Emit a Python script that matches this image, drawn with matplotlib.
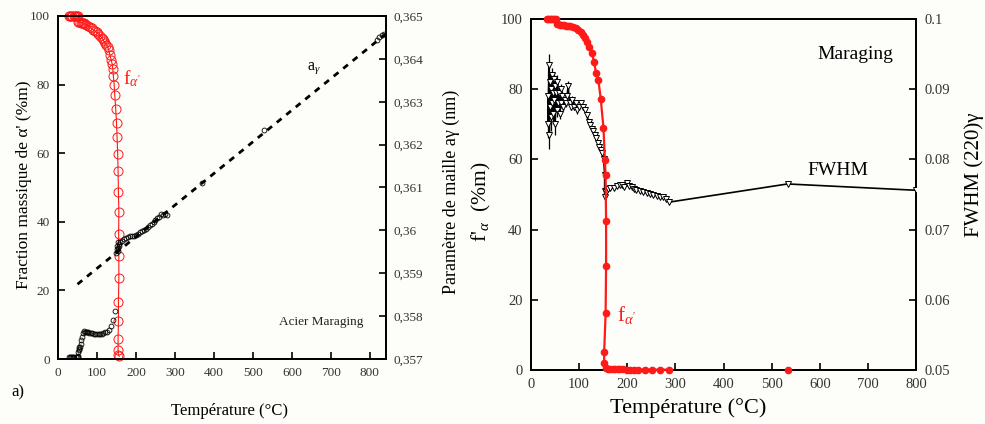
import matplotlib
matplotlib.use("Agg")
import matplotlib.pyplot as plt
import matplotlib.ticker as mticker

plt.rcParams['font.family'] = ['Liberation Serif', 'DejaVu Serif']
plt.rcParams['mathtext.fontset'] = 'custom'
plt.rcParams['mathtext.rm'] = 'Liberation Serif'
plt.rcParams['mathtext.it'] = 'Liberation Serif:italic'

# --- panel a) : fraction alpha' (left axis, %m) ---
fa_T = [28, 31, 34, 37, 40, 43, 46, 49, 51,
        52, 55, 58, 61, 64, 67, 70,
        73, 77, 81, 86, 90, 95, 99, 103, 107, 112, 115, 118, 121, 124, 127,
        130, 133, 136, 139, 140.5, 142, 144, 145.5, 148, 150, 151.5, 153,
        154, 155, 156, 155.5, 156, 156, 155, 155, 154, 154, 155, 157]
fa_val = [100, 100, 100, 100, 100, 100, 100, 100, 100,
          98.2, 98.2, 98.1, 98, 98, 97.9, 97.7,
          97.4, 97.2, 96.9, 96.4, 96.0, 95.6, 95.2, 94.8, 94.3, 93.7, 93.2, 92.6, 92.1, 91.6, 91.1,
          90.1, 88.7, 87.2, 86.0, 84.5, 82.4, 80, 77.1, 72.8, 68.9, 64.7, 59.7,
          54.9, 48.6, 43, 36.3, 30, 23.7, 16.7, 11.2, 5.9, 2.7, 1.2, 0.8]

# lattice parameter a_gamma (right axis, nm)
ag_T = [27, 30, 33, 36, 39, 42, 45, 48, 50,
        51, 52, 53, 54, 55, 56, 58, 60, 62, 64, 66,
        68, 71, 74, 77, 80, 84, 88, 92, 96, 100, 104, 108, 112, 116, 120,
        125, 131, 136, 142, 146,
        148, 150, 152, 153, 154, 155, 156, 157,
        160, 165, 170, 175, 180, 185, 190, 195, 200,
        205, 210, 215, 220, 225, 230, 235, 240, 245, 250, 255, 260, 265, 270, 275, 280,
        370, 528, 818, 824, 830, 835]
ag_val = [0.35704, 0.35704, 0.35704, 0.35704, 0.35704, 0.35704, 0.35704, 0.35704, 0.35704,
          0.35708, 0.35716, 0.35720, 0.35724, 0.35728, 0.35729, 0.35736, 0.35744, 0.35752, 0.35760, 0.35766,
          0.35764, 0.35762, 0.35762, 0.35762, 0.35761, 0.35760, 0.35760, 0.35759, 0.35758, 0.35758,
          0.35758, 0.35758, 0.35759, 0.35760, 0.35762,
          0.35764, 0.35768, 0.35777, 0.35790, 0.35812,
          0.35948, 0.35956, 0.35964, 0.35952, 0.35960, 0.35972, 0.35964, 0.35968,
          0.35972, 0.35976, 0.35980, 0.35982, 0.35984, 0.35986, 0.35988, 0.35986, 0.35990,
          0.35992, 0.35996, 0.35998, 0.36000, 0.36004, 0.36008, 0.36012, 0.36014, 0.36020,
          0.36024, 0.36028, 0.36032, 0.36038, 0.36036, 0.36038, 0.36036,
          0.36111, 0.36234, 0.36444, 0.36452, 0.36456, 0.36458]

# linear fit of a_gamma (dashed)
fit_T = [50, 840]
fit_val = [0.358744, 0.364576]

# --- panel b) : Maraging ---
fb_T = [33, 36, 39, 42, 45, 48, 51,
        53, 56, 60, 64, 68, 72, 76, 81,
        88, 93, 98, 103, 107.6, 112, 116, 121.5, 126.4, 131, 135, 140, 145,
        150.6, 153.5, 154.9, 156, 156, 155, 152, 152, 155,
        160, 165, 170, 175, 180, 185, 192, 199, 206, 213, 223, 237, 251, 268.6, 286]
fb_val = [100, 100, 100, 100, 100, 100, 100,
          98.6, 98.5, 98.4, 98.3, 98.2, 98.1, 98.0, 97.9,
          97.8, 97.3, 96.9, 96.2, 95.4, 94.5, 93.5, 92.1, 90.2, 87.8, 84.7, 82.6, 77.1,
          68.9, 59.8, 55.6, 42.5, 29.7, 16.1, 5.2, 2.1, 0.5,
          0.3, 0.2, 0.2, 0.2, 0.2, 0.2, 0.2, 0.1, 0.1, 0.1, 0.1, 0.1, 0.1, 0.1, 0.1]
fb_extra_T = [533]
fb_extra_val = [0]

fwhm_T = [35, 36, 37, 38, 39, 40, 41, 42, 43, 44, 45, 46, 47, 48, 49, 50, 52, 54, 55, 57,
          58, 60, 62, 63, 65, 67, 70,
          72, 75, 77, 80, 83, 86, 90, 93, 96, 100, 104, 108, 112, 116, 120, 123, 126, 129,
          132, 136, 139, 142, 145, 148, 151,
          153, 153, 154, 156, 160, 165, 172, 178, 184, 189, 194, 199, 204, 209, 214, 219,
          226, 233, 240, 247, 254, 261, 268, 275, 280, 286,
          533, 800]
fwhm_val = [0.0890, 0.0850, 0.0935, 0.0835, 0.0910, 0.0875, 0.0900, 0.0860, 0.0920, 0.0880,
            0.0895, 0.0865, 0.0915, 0.0885, 0.0905, 0.0850, 0.0895, 0.0870, 0.0910, 0.0880,
            0.0895, 0.0865, 0.0900, 0.0880, 0.0890, 0.0875, 0.0885,
            0.0880, 0.0890, 0.0905, 0.0880, 0.0875, 0.0885, 0.0875, 0.0880, 0.0870, 0.0875,
            0.0880, 0.0875, 0.0870, 0.0863, 0.0853, 0.0849, 0.0844, 0.0840,
            0.0835, 0.0830, 0.0824, 0.0818, 0.0813, 0.0809, 0.0800,
            0.0778, 0.0747, 0.0755, 0.0754, 0.0758, 0.0759, 0.0759, 0.0762, 0.0763, 0.0764,
            0.0761, 0.0766, 0.0762, 0.0761, 0.0758, 0.0757,
            0.0755, 0.0754, 0.0752, 0.0751, 0.0749, 0.0748, 0.0747, 0.0746, 0.0744, 0.0739,
            0.0765, 0.0756]
fwhm_err = [0.0015, 0.002, 0.0015, 0.002, 0.0015, 0.001, 0.0015, 0.002, 0.001, 0.0015,
            0.001, 0.0015, 0.001, 0.0015, 0.001, 0.0015, 0.001, 0.001, 0.001, 0.001,
            0.0008, 0.0008, 0.0008, 0.0007, 0.0007, 0.0006, 0.0006,
            0.0006, 0.0006, 0.0006, 0.0005, 0.0005, 0.0005, 0.0005, 0.0005, 0.0005, 0.0004,
            0.0004, 0.0004, 0.0004, 0.0004, 0.0004, 0.0004, 0.0004, 0.0004,
            0.0004, 0.0004, 0.0004, 0.0004, 0.0004, 0.0004, 0.0004,
            0.0004, 0.0004, 0.0003, 0.0003, 0.0003, 0.0003, 0.0003, 0.0003, 0.0003, 0.0003,
            0.0003, 0.0003, 0.0003, 0.0003, 0.0003, 0.0003,
            0.0003, 0.0003, 0.0003, 0.0003, 0.0003, 0.0003, 0.0003, 0.0003, 0.0003, 0.0003,
            0.0002, 0.0002]

bg = '#fdfdf9'
red = '#ff1a1a'

fig = plt.figure(figsize=(9.85, 4.24), dpi=100, facecolor=bg)


def style(ax, size):
    ax.set_facecolor(bg)
    for s in ax.spines.values():
        s.set_linewidth(1.3)
    ax.tick_params(direction='in', length=5, width=1.2, labelsize=size,
                   labelcolor='#333333', pad=6, top=False)


# ---------------- left panel ----------------
ax1 = fig.add_axes([0.0589, 0.1533, 0.3325, 0.809])
style(ax1, 9.5)
ax1.set_xlim(0, 840)
ax1.set_ylim(0, 100)
ax1.set_xticks(range(0, 801, 100))
ax1.set_yticks(range(0, 101, 20))
ax1.plot(fa_T, fa_val, color=red, lw=0.8, marker='o', ms=6.5, mfc='none',
         mec=red, mew=0.7, zorder=4, clip_on=False)

ax1b = ax1.twinx()
ax1b.set_ylim(0.357, 0.365)
ax1b.set_yticks([0.357, 0.358, 0.359, 0.36, 0.361, 0.362, 0.363, 0.364, 0.365])
ax1b.yaxis.set_major_formatter(mticker.FuncFormatter(
    lambda v, p: ('%g' % round(v, 3)).replace('.', ',')))
style(ax1b, 9.5)
ax1b.plot(fit_T, fit_val, color='black', lw=2, ls=(0, (2.2, 2.2)))
ax1b.plot(ag_T, ag_val, ls='none', marker='o', ms=3.5, mfc='none', mec='black', mew=0.6)

ax1.set_ylabel("Fraction massique de α' (%m)", fontsize=12.5)
ax1.yaxis.set_label_coords(-0.079, 0.507)
ax1b.set_ylabel("Paramètre de maille aγ (nm)", fontsize=13)
ax1b.yaxis.set_label_coords(1.173, 0.488)
ax1.set_xlabel("Température (°C)", fontsize=12)
ax1.xaxis.set_label_coords(0.525, -0.128)

ax1.text(167, 80, r"f$_{\alpha'}$", color=red, fontsize=14)
ax1.text(638, 84.5, r"a$_{\gamma}$", color='black', fontsize=11.5)
ax1.text(674, 9.9, "Acier Maraging", fontsize=9.5, ha='center', color='#222222')
fig.text(0.012, 0.065, "a)", fontsize=12)

# ---------------- right panel ----------------
ax2 = fig.add_axes([0.5391, 0.1274, 0.3909, 0.8278])
style(ax2, 10.5)
ax2.set_xlim(0, 800)
ax2.set_ylim(0, 100)
ax2.set_xticks(range(0, 801, 100))
ax2.set_yticks(range(0, 101, 20))

ax2b = ax2.twinx()
ax2b.set_ylim(0.05, 0.1)
ax2b.set_yticks([0.05, 0.06, 0.07, 0.08, 0.09, 0.1])
ax2b.yaxis.set_major_formatter(mticker.FuncFormatter(lambda v, p: '%g' % round(v, 3)))
style(ax2b, 10.5)
ax2b.errorbar(fwhm_T, fwhm_val, yerr=fwhm_err, color='black', lw=1.2, elinewidth=0.9,
              capsize=0, marker='v', ms=4.5, mfc='white', mec='black', mew=0.7, zorder=3)

ax2b.plot(fb_T, [0.05 + v * 0.0005 for v in fb_val], color=red, lw=1.6, marker='o', ms=4.5,
          mec=red, mfc=red, zorder=5, clip_on=False)
ax2b.plot(fb_extra_T, [0.05 + v * 0.0005 for v in fb_extra_val], ls='none', marker='o',
          ms=4.5, color=red, zorder=5, clip_on=False)

ax2.set_ylabel(r"f$'_{\alpha}$  (%m)", fontsize=15.5)
ax2.yaxis.set_label_coords(-0.099, 0.479)
ax2b.set_ylabel("FWHM (220)γ", fontsize=15)
ax2b.yaxis.set_label_coords(1.125, 0.556)
ax2.set_xlabel("Température (°C)", fontsize=16)
ax2.xaxis.set_label_coords(0.408, -0.08)

ax2.text(595, 88.7, "Maraging", fontsize=14)
ax2.text(574, 55.5, "FWHM", fontsize=14)
ax2.text(179, 14, r"f$_{\alpha'}$", color=red, fontsize=15)

fig.savefig("out.png", dpi=100, facecolor=bg)
